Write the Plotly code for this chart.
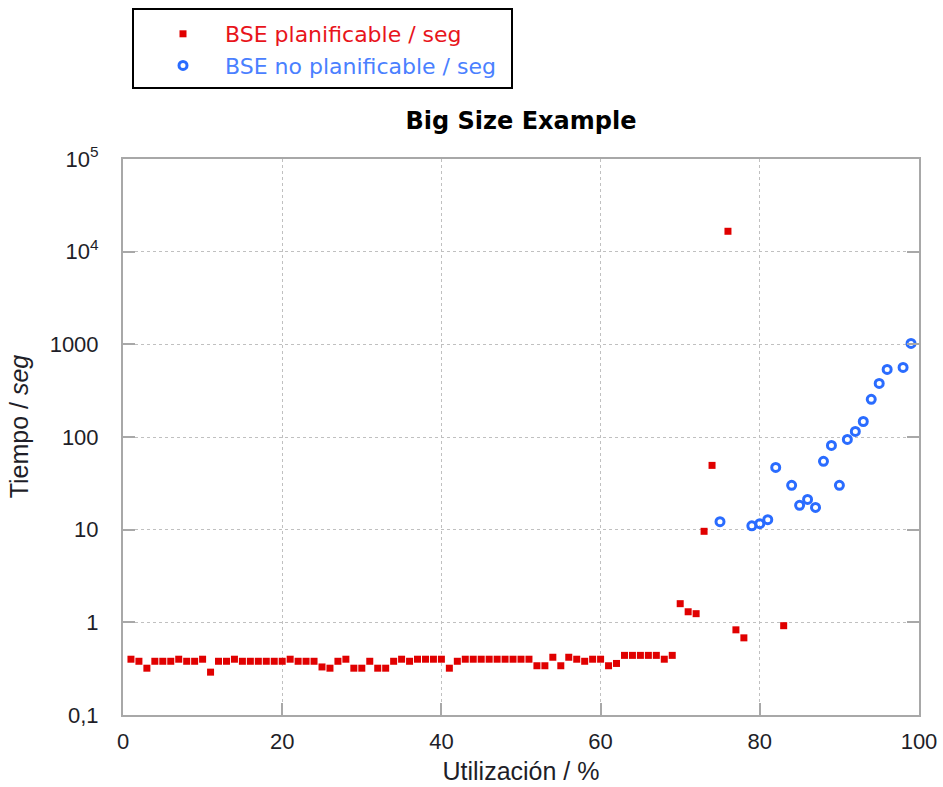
import plotly.graph_objects as go

# ---- data ----
plan_x = list(range(1, 70)) + [70, 71, 72, 73, 74, 76, 77, 78, 83]
plan_y = [0.40, 0.38, 0.32, 0.38, 0.38, 0.38, 0.40, 0.38, 0.38, 0.40,
          0.29, 0.38, 0.38, 0.40, 0.38, 0.38, 0.38, 0.38, 0.38, 0.38,
          0.40, 0.38, 0.38, 0.38, 0.33, 0.32, 0.38, 0.40, 0.32, 0.32,
          0.38, 0.32, 0.32, 0.38, 0.40, 0.38, 0.40, 0.40, 0.40, 0.40,
          0.32, 0.38, 0.40, 0.40, 0.40, 0.40, 0.40, 0.40, 0.40, 0.40,
          0.40, 0.34, 0.34, 0.42, 0.34, 0.42, 0.40, 0.38, 0.40, 0.40,
          0.34, 0.36, 0.44, 0.44, 0.44, 0.44, 0.44, 0.40, 0.44,
          1.59, 1.30, 1.24, 9.6, 49.4, 16600, 0.83, 0.68, 0.92]

noplan_x = [75, 79, 80, 81, 82, 84, 85, 86, 87, 88, 89, 90, 91, 92, 93, 94, 95, 96, 98, 99]
noplan_y = [12.2, 11.0, 11.6, 12.8, 47.0, 30.1, 18.3, 21.2, 17.4, 54.6,
            81.2, 30.1, 94.2, 115, 147, 255, 379, 536, 563, 1023]

x_ticks = [0, 20, 40, 60, 80, 100]
y_ticks = [0.1, 1, 10, 100, 1000, 10000, 100000]
y_tick_labels = ["0,1", "1", "10", "100", "1000", "10<sup>4</sup>", "10<sup>5</sup>"]

name_plan = "BSE planificable / seg"
name_noplan = "BSE no planificable / seg"
title_text = "Big Size Example"
x_title = "Utilización / %"
y_title = "&nbsp;&nbsp;&nbsp;Tiempo / <i>seg</i>"

RED = "#e00000"
BLUE = "#2a6cff"
RED_TXT = "#e8141b"
BLUE_TXT = "#4a80ff"

fig = go.Figure()
fig.add_trace(go.Scatter(
    x=plan_x, y=plan_y, mode="markers",
    name=f'<span style="color:{RED_TXT}">{name_plan}</span>',
    marker=dict(symbol="square", size=7, color=RED, line=dict(width=0)),
))
fig.add_trace(go.Scatter(
    x=noplan_x, y=noplan_y, mode="markers",
    name=f'<span style="color:{BLUE_TXT}">{name_noplan}</span>',
    marker=dict(symbol="circle-open", size=8, color=BLUE, line=dict(width=3, color=BLUE)),
))

AXCOL = "#a8a8a8"
GRIDCOL = "#c0c0c0"
tickfont = dict(family="Liberation Sans, Arial", size=22, color="#1e1e28")
titlefont = dict(family="Liberation Sans, Arial", size=25, color="#1e1e28")

PL, PR, PT, PB = 123, 919, 159, 715
PW, PH = PR - PL, PB - PT

fig.update_layout(
    width=943, height=787,
    margin=dict(l=PL, r=943 - PR, t=PT, b=787 - PB, autoexpand=False),
    paper_bgcolor="white", plot_bgcolor="white",
    showlegend=True,
    legend=dict(
        x=(141 - PL) / PW, y=(PB - 13) / PH, xref="paper", yref="paper",
        xanchor="left", yanchor="top",
        font=dict(family="DejaVu Sans", size=22),
        bgcolor="rgba(0,0,0,0)", borderwidth=0,
        itemwidth=74, tracegroupgap=0,
    ),
    title=dict(
        text=f"<b>{title_text}</b>",
        font=dict(family="DejaVu Sans", size=24, color="black"),
        x=0.5, xref="paper", xanchor="center",
        y=1 - 121 / 787, yref="container", yanchor="middle",
    ),
    shapes=[dict(type="rect", xref="paper", yref="paper",
                 x0=(133 - PL) / PW, x1=(512 - PL) / PW,
                 y0=(PB - 88) / PH, y1=(PB - 9) / PH,
                 line=dict(color="black", width=2), fillcolor="rgba(0,0,0,0)",
                 layer="above")],
)

fig.update_xaxes(
    range=[0, 100], tickvals=x_ticks, ticktext=[str(v) for v in x_ticks],
    showline=True, linecolor=AXCOL, linewidth=2, mirror=True,
    ticks="inside", ticklen=12, tickwidth=2, tickcolor=AXCOL,
    showgrid=True, gridcolor=GRIDCOL, griddash="dot", gridwidth=1,
    zeroline=False, tickfont=tickfont, ticklabelstandoff=6, automargin=False,
    title=dict(text=x_title, font=titlefont, standoff=9),
)
fig.update_yaxes(
    type="log", range=[-1, 5], tickvals=y_ticks, ticktext=y_tick_labels,
    showline=True, linecolor=AXCOL, linewidth=2, mirror="ticks",
    ticks="inside", ticklen=12, tickwidth=2, tickcolor=AXCOL,
    showgrid=True, gridcolor=GRIDCOL, griddash="dot", gridwidth=1,
    zeroline=False, tickfont=tickfont, ticklabelstandoff=18, automargin=False,
    title=dict(text=y_title, font=titlefont, standoff=14),
)

fig.write_html("out.html")
